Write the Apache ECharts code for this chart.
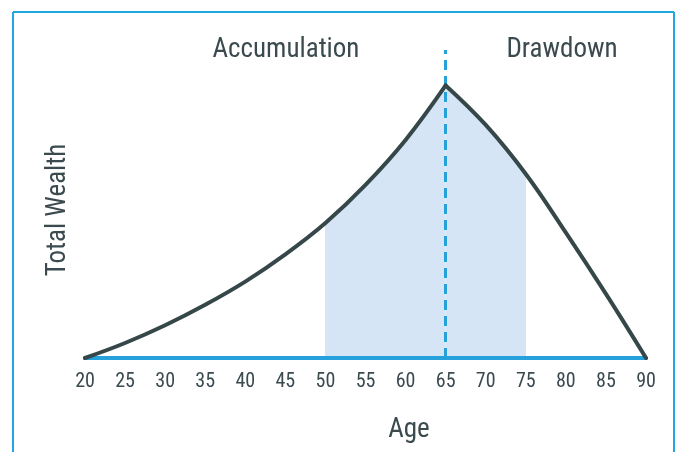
<!DOCTYPE html>
<html>
<head>
<meta charset="utf-8">
<script src="https://cdn.jsdelivr.net/npm/echarts@6/dist/echarts.min.js"></script>
<style>
  html, body { margin: 0; padding: 0; background: #ffffff; }
  #chart { width: 680px; height: 452px; }
</style>
</head>
<body>
<div id="chart"></div>
<script>
// ---- data ----
const xTickAges = [20, 25, 30, 35, 40, 45, 50, 55, 60, 65, 70, 75, 80, 85, 90];
const accumulationAges = [20, 25, 30, 35, 40, 45, 50, 55, 60, 65];
const accumulationWealth = [0, 5.5, 12, 19.5, 28, 38, 49.5, 63.5, 80, 100];
const drawdownAges = [65, 70, 75, 80, 85, 90];
const drawdownWealth = [100, 85.5, 67.5, 46, 23.5, 0];
const shadeRange = [50, 75];
const retirementAge = 65;
const phaseLabels = ['Accumulation', 'Drawdown'];
const xAxisTitle = 'Age';
const yAxisTitle = 'Total Wealth';

const pairs = (xs, ys) => xs.map((x, i) => [x, ys[i]]);
const accData = pairs(accumulationAges, accumulationWealth);
const drawData = pairs(drawdownAges, drawdownWealth);

const FONT = "'Liberation Sans Narrow', 'Roboto Condensed', 'DejaVu Sans Condensed', sans-serif";
const TEXT = '#3a4a4f';
const CURVE = '#36474a';
const BLUE = '#27a1dc';
const SHADE = '#d6e5f5';
const SMOOTH = 0.4;

const chart = echarts.init(document.getElementById('chart'), null, { renderer: 'canvas' });

const shadeSeries = (data, withMark) => {
  const s = {
    type: 'line',
    data: data,
    smooth: SMOOTH,
    showSymbol: false,
    silent: true,
    z: 1,
    lineStyle: { width: 0 },
    areaStyle: { opacity: 1 }
  };
  if (withMark) {
    s.markLine = {
      silent: true,
      symbol: 'none',
      label: { show: false },
      lineStyle: { color: BLUE, width: 3, type: [10, 6] },
      data: [{ xAxis: retirementAge }],
      z: 2
    };
  }
  return s;
};

const curveSeries = (data) => ({
  type: 'line',
  data: data,
  smooth: SMOOTH,
  showSymbol: false,
  silent: true,
  z: 5,
  lineStyle: { color: CURVE, width: 4, cap: 'round', join: 'round' }
});

chart.setOption({
  animation: false,
  backgroundColor: '#ffffff',
  grid: { left: 85, right: 34, top: 50, bottom: 94, containLabel: false },
  xAxis: {
    type: 'value',
    min: 20,
    max: 90,
    interval: 5,
    z: 4,
    axisLine: { show: true, onZero: false, lineStyle: { color: BLUE, width: 4 } },
    axisTick: { show: false },
    splitLine: { show: false },
    axisLabel: {
      color: TEXT,
      fontFamily: FONT,
      fontSize: 20,
      margin: 14,
      customValues: xTickAges,
      formatter: (v) => String(v)
    }
  },
  yAxis: {
    type: 'value',
    min: 0,
    max: 113,
    show: false
  },
  visualMap: {
    type: 'piecewise',
    show: false,
    dimension: 0,
    seriesIndex: [0, 1],
    pieces: [{ gte: shadeRange[0], lte: shadeRange[1], color: SHADE }],
    outOfRange: { color: 'rgba(255,255,255,0)' }
  },
  series: [
    shadeSeries(accData, true),
    shadeSeries(drawData, false),
    curveSeries(accData),
    curveSeries(drawData)
  ],
  graphic: [
    { type: 'line', shape: { x1: 13, y1: 12, x2: 674, y2: 12 }, style: { stroke: '#1ea7e1', lineWidth: 2 } },
    { type: 'line', shape: { x1: 13, y1: 12, x2: 13, y2: 452 }, style: { stroke: '#1ea7e1', lineWidth: 2 } },
    { type: 'line', shape: { x1: 674, y1: 12, x2: 674, y2: 452 }, style: { stroke: '#1ea7e1', lineWidth: 2 } },
    { type: 'text', x: 286, y: 50, style: { text: phaseLabels[0], fill: TEXT, font: '27px ' + FONT, textAlign: 'center', textVerticalAlign: 'middle' } },
    { type: 'text', x: 562, y: 50, style: { text: phaseLabels[1], fill: TEXT, font: '27px ' + FONT, textAlign: 'center', textVerticalAlign: 'middle' } },
    { type: 'text', x: 409, y: 430, style: { text: xAxisTitle, fill: TEXT, font: '27px ' + FONT, textAlign: 'center', textVerticalAlign: 'middle' } },
    { type: 'text', x: 58, y: 210, rotation: Math.PI / 2, style: { text: yAxisTitle, fill: TEXT, font: '27px ' + FONT, textAlign: 'center', textVerticalAlign: 'middle' } }
  ]
});
</script>
</body>
</html>
